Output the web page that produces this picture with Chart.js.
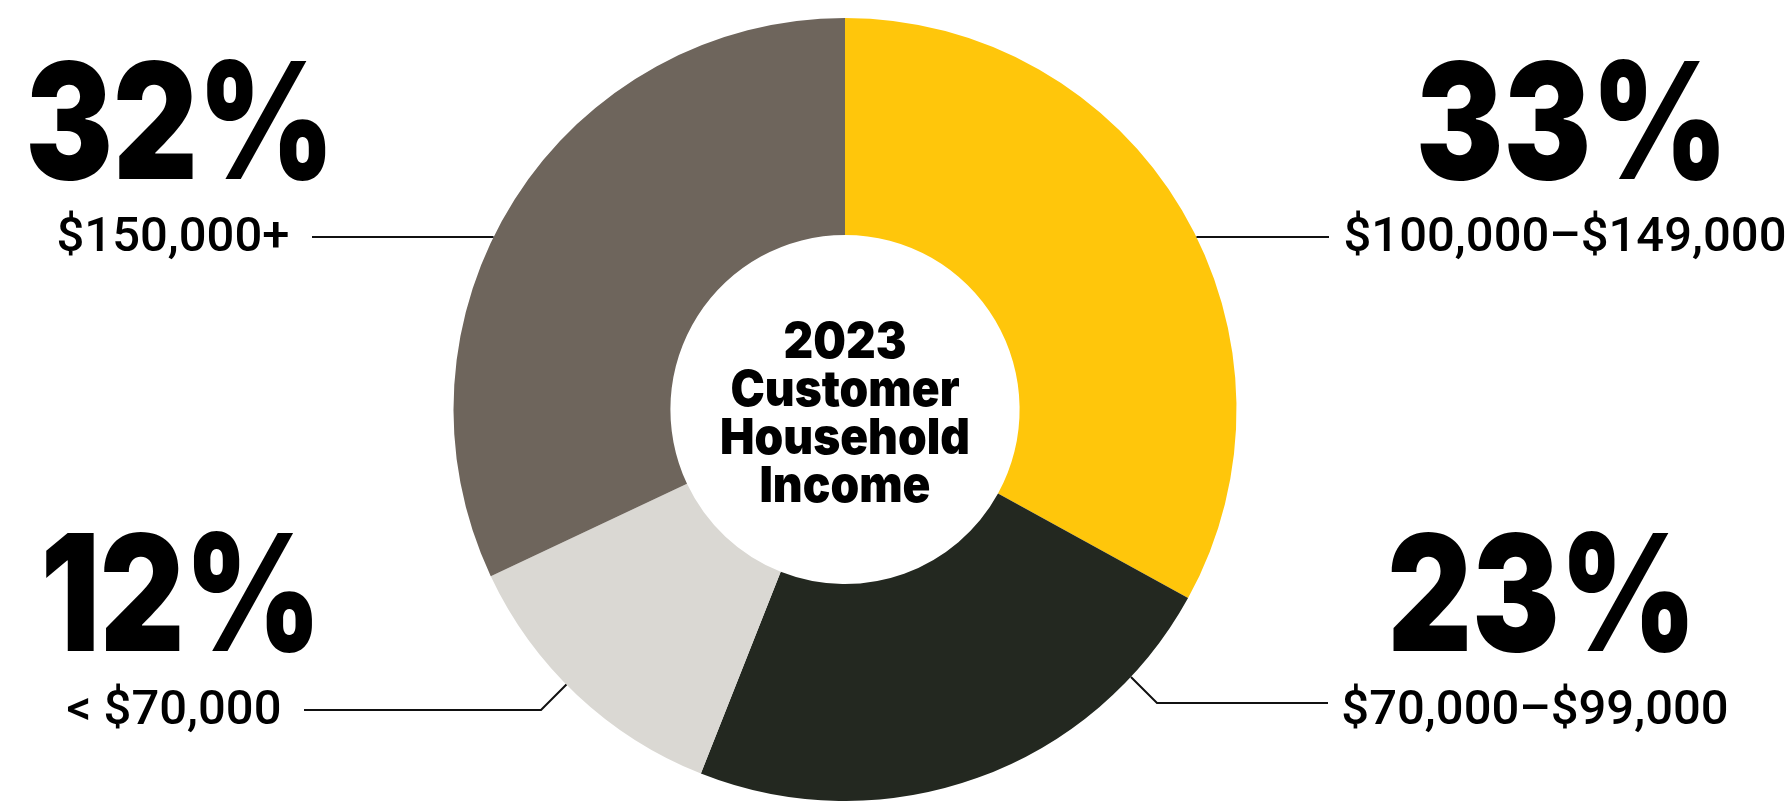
<!DOCTYPE html>
<html>
<head>
<meta charset="utf-8">
<script src="https://cdn.jsdelivr.net/npm/chart.js@4"></script>
<style>
  html, body { margin: 0; padding: 0; background: #fff; }
</style>
</head>
<body>
<canvas id="income" width="1788" height="801"></canvas>
<script>
// slices run clockwise from 12 o'clock
const categories = ['$100,000–$149,000', '$70,000–$99,000', '< $70,000', '$150,000+']
const shares = [33, 23, 12, 32]
const sliceColors = ['#FFC60B', '#232820', '#DAD8D3', '#6E655C']
const centerTitle = ['2023', 'Customer', 'Household', 'Income']

// where each callout sits: text centre, baselines, leader line
const calloutLayout = [
    {cx: 1565, pctY: 179, textY: 251, lineY: 237, lineEnd: 1329},
    {cx: 1535, pctY: 651, textY: 724, lineY: 703, lineEnd: 1328, elbow: 1157},
    {cx: 174, pctY: 651, textY: 724, lineY: 710, lineEnd: 304, elbow: 541},
    {cx: 173, pctY: 179, textY: 251, lineY: 237, lineEnd: 312},
]

const PCT_FONT = '900 162px Inter'
const PCT_SQUEEZE = 0.81
const PCT_SHIFT = 7
const LABEL_FONT = '500 48px Roboto'
const LABEL_SQUEEZE = 1.02
const TITLE_FONT = '900 50px Inter'
const TITLE_SQUEEZE = 0.92

function drawText(ctx, text, x, y, font, squeeze) {
    ctx.save()
    ctx.font = font
    ctx.translate(x, y)
    ctx.scale(squeeze, 1)
    ctx.textAlign = 'center'
    ctx.textBaseline = 'alphabetic'
    ctx.fillStyle = '#000'
    ctx.fillText(text, 0, 0)
    ctx.restore()
}

// first point where a ray from p along d meets the circle
function hitCircle(px, py, dx, dy, cx, cy, r) {
    const fx = px - cx, fy = py - cy
    const b = fx * dx + fy * dy
    const c = fx * fx + fy * fy - r * r
    const t = -b - Math.sqrt(Math.max(b * b - c, 0))
    return [px + t * dx, py + t * dy]
}

const callouts = {
    id: 'callouts',
    afterDraw(chart) {
        const ctx = chart.ctx
        const arc = chart.getDatasetMeta(0).data[0]
        const cx = arc.x, cy = arc.y, r = arc.outerRadius

        // centre title
        centerTitle.forEach((line, i) => {
            drawText(ctx, line, cx, cy - 52 + i * 48, TITLE_FONT, TITLE_SQUEEZE)
        })

        calloutLayout.forEach((c, i) => {
            drawText(ctx, shares[i] + '%', c.cx + PCT_SHIFT, c.pctY, PCT_FONT, PCT_SQUEEZE)
            drawText(ctx, categories[i], c.cx, c.textY, LABEL_FONT, LABEL_SQUEEZE)

            ctx.save()
            ctx.strokeStyle = '#111'
            ctx.lineWidth = 2
            ctx.beginPath()
            ctx.moveTo(c.lineEnd, c.lineY)
            if (c.elbow !== undefined) {
                ctx.lineTo(c.elbow, c.lineY)
                const sx = Math.sign(cx - c.elbow)
                const [hx, hy] = hitCircle(c.elbow, c.lineY, sx / Math.SQRT2, -1 / Math.SQRT2, cx, cy, r)
                ctx.lineTo(hx, hy)
            } else {
                const dy = c.lineY - cy
                const half = Math.sqrt(r * r - dy * dy)
                ctx.lineTo(c.lineEnd > cx ? cx + half : cx - half, c.lineY)
            }
            ctx.stroke()
            ctx.restore()
        })
    }
}

new Chart(document.getElementById('income'), {
    type: 'doughnut',
    data: {
        labels: categories,
        datasets: [{
            data: shares,
            backgroundColor: sliceColors,
            borderWidth: 0
        }]
    },
    options: {
        responsive: false,
        animation: false,
        cutout: '44.6%',
        layout: {
            padding: {left: 453, right: 551, top: 18, bottom: 0}
        },
        plugins: {
            legend: {display: false},
            tooltip: {enabled: false}
        }
    },
    plugins: [callouts]
})
</script>
</body>
</html>
